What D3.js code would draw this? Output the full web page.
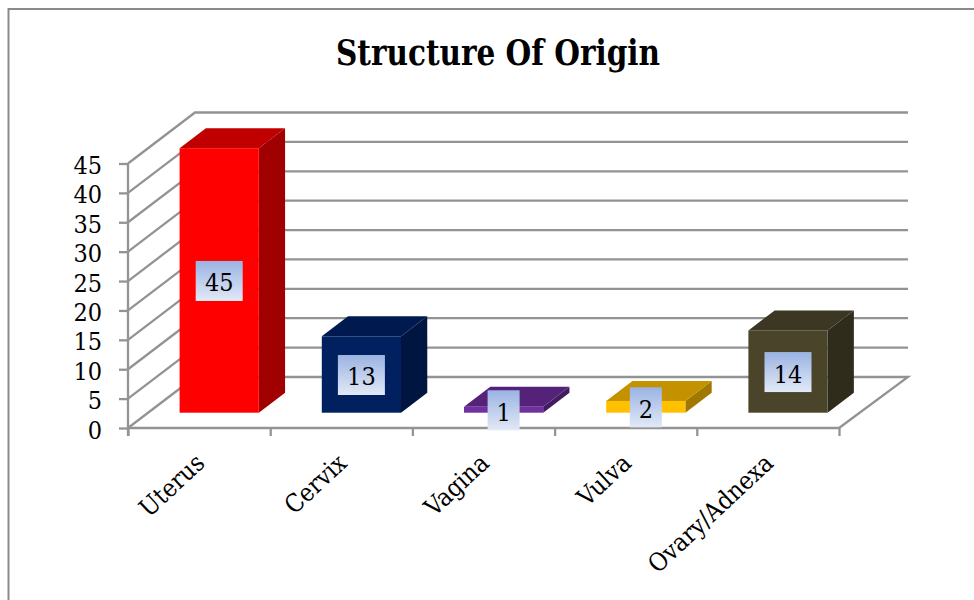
<!DOCTYPE html>
<html>
<head>
<meta charset="utf-8">
<script src="https://cdn.jsdelivr.net/npm/d3@7/dist/d3.min.js"></script>
<style>
html,body{margin:0;padding:0;background:#fff;overflow:hidden}
text{font-family:"DejaVu Serif Condensed","DejaVu Serif",serif;font-stretch:condensed;fill:#000}
</style>
</head>
<body>
<svg id="c" width="974" height="600"></svg>
<script>
const categories = ["Uterus", "Cervix", "Vagina", "Vulva", "Ovary/Adnexa"];
const values = [45, 13, 1, 2, 14];
const yTicks = [0, 5, 10, 15, 20, 25, 30, 35, 40, 45];
const titleText = "Structure Of Origin";
const frontColors = ["#ff0000", "#002060", "#7030a0", "#ffc000", "#4a452a"];
const topColors = ["#c00000", "#001a4f", "#542379", "#c49200", "#3b3722"];
const sideColors = ["#a00000", "#00153f", "#421b60", "#a07800", "#2f2c1b"];

const svg = d3.select("#c");
const gridCol = "#939393";
const fontStack = '"DejaVu Serif Condensed","DejaVu Serif",serif';

// plot geometry
const left = 128, right = 839, y0 = 428, y45 = 163.5;
const depthX = 67, depthY = 51;
const t0 = 0.3, t1 = 0.692;

const x = d3.scaleBand().domain(categories).range([left, right]).paddingInner(0).paddingOuter(0);
const y = d3.scaleLinear().domain([0, 45]).range([y0, y45]);
const barW = x.bandwidth() * 0.557;

// gradient for labels
const grad = svg.append("defs").append("linearGradient")
  .attr("id", "lab").attr("x1", 0).attr("y1", 0).attr("x2", 0).attr("y2", 1);
grad.append("stop").attr("offset", "0%").attr("stop-color", "#9ab3e3");
grad.append("stop").attr("offset", "100%").attr("stop-color", "#e2e9f6");

// outer frame
svg.append("path").attr("d", "M8.5,600V9H974").attr("fill", "none")
  .attr("stroke", "#8a8a8a").attr("stroke-width", 2);

// title
svg.append("text").attr("x", 498).attr("y", 65).attr("text-anchor", "middle")
  .attr("font-size", 35).attr("font-weight", "bold")
  .attr("textLength", 324).attr("lengthAdjust", "spacingAndGlyphs").text(titleText);

// walls
const grid = svg.append("g").attr("fill", "none").attr("stroke", gridCol).attr("stroke-width", 2.3);
grid.selectAll("path.w").data(yTicks).join("path").attr("class", "w")
  .attr("d", d => {
    const py = y(d);
    if (d === 0) return `M${left},${py}L${left + depthX},${py - depthY}`;
    return `M${left},${py}L${left + depthX},${py - depthY}H${right + depthX + 2}`;
  });
// floor
grid.append("path").attr("d", `M${left},${y0}H${right}L${right + depthX + 2},${y0 - depthY}H${left + depthX}`);

// axes
const yAxis = d3.axisLeft(y).tickValues(yTicks).tickSize(9).tickPadding(17);
const gy = svg.append("g").attr("transform", `translate(${left},0)`).call(yAxis);
gy.select(".domain").attr("d", `M0,${y45}V${y0 + 8}`).attr("stroke", gridCol).attr("stroke-width", 2.3);
gy.selectAll(".tick line").attr("stroke", gridCol).attr("stroke-width", 2.3);
gy.selectAll(".tick text").attr("font-size", 25).attr("font-family", fontStack).attr("dy", "0.4em");

const xAxis = d3.axisBottom(d3.scalePoint().domain(d3.range(categories.length + 1)).range([left, right])).tickSize(8).tickFormat("");
const gx = svg.append("g").attr("transform", `translate(0,${y0})`).call(xAxis);
gx.select(".domain").remove();
gx.selectAll(".tick line").attr("stroke", gridCol).attr("stroke-width", 2.3);

// category labels
svg.append("g").selectAll("text").data(categories).join("text")
  .attr("text-anchor", "end").attr("font-size", 25)
  .attr("transform", d => `translate(${x(d) + x.bandwidth() / 2 + 7},${y0 + 37}) rotate(-43)`)
  .text(d => d);

// bars
const barX = d => x(d) + x.bandwidth() / 2 + depthX * t0 - barW / 2;
const baseY = y0 - depthY * t0;
const dx = depthX * (t1 - t0), dy = depthY * (t1 - t0);
const barH = v => y(0) - y(v);
const bars = svg.append("g").selectAll("g").data(categories).join("g");
bars.append("path").attr("fill", (d, i) => sideColors[i])
  .attr("d", (d, i) => {
    const r = barX(d) + barW, b = baseY, h = barH(values[i]);
    return `M${r},${b}L${r + dx},${b - dy}V${b - dy - h}L${r},${b - h}Z`;
  });
bars.append("path").attr("fill", (d, i) => topColors[i])
  .attr("d", (d, i) => {
    const l = barX(d), t = baseY - barH(values[i]);
    return `M${l},${t}L${l + dx},${t - dy}H${l + dx + barW}L${l + barW},${t}Z`;
  });
bars.append("rect").attr("fill", (d, i) => frontColors[i])
  .attr("x", barX).attr("width", barW)
  .attr("y", (d, i) => baseY - barH(values[i]))
  .attr("height", (d, i) => barH(values[i]));

// data labels
const lab = svg.append("g").selectAll("g").data(categories).join("g")
  .attr("transform", (d, i) => `translate(${barX(d) + barW / 2},${baseY - barH(values[i]) / 2})`);
const labW = i => values[i] >= 10 ? 47 : 32;
lab.append("rect").attr("x", (d, i) => -labW(i) / 2).attr("y", -19.5)
  .attr("width", (d, i) => labW(i)).attr("height", 40).attr("fill", "url(#lab)");
lab.append("text").attr("text-anchor", "middle").attr("y", 11).attr("font-size", 25)
  .text((d, i) => values[i]);
</script>
</body>
</html>
